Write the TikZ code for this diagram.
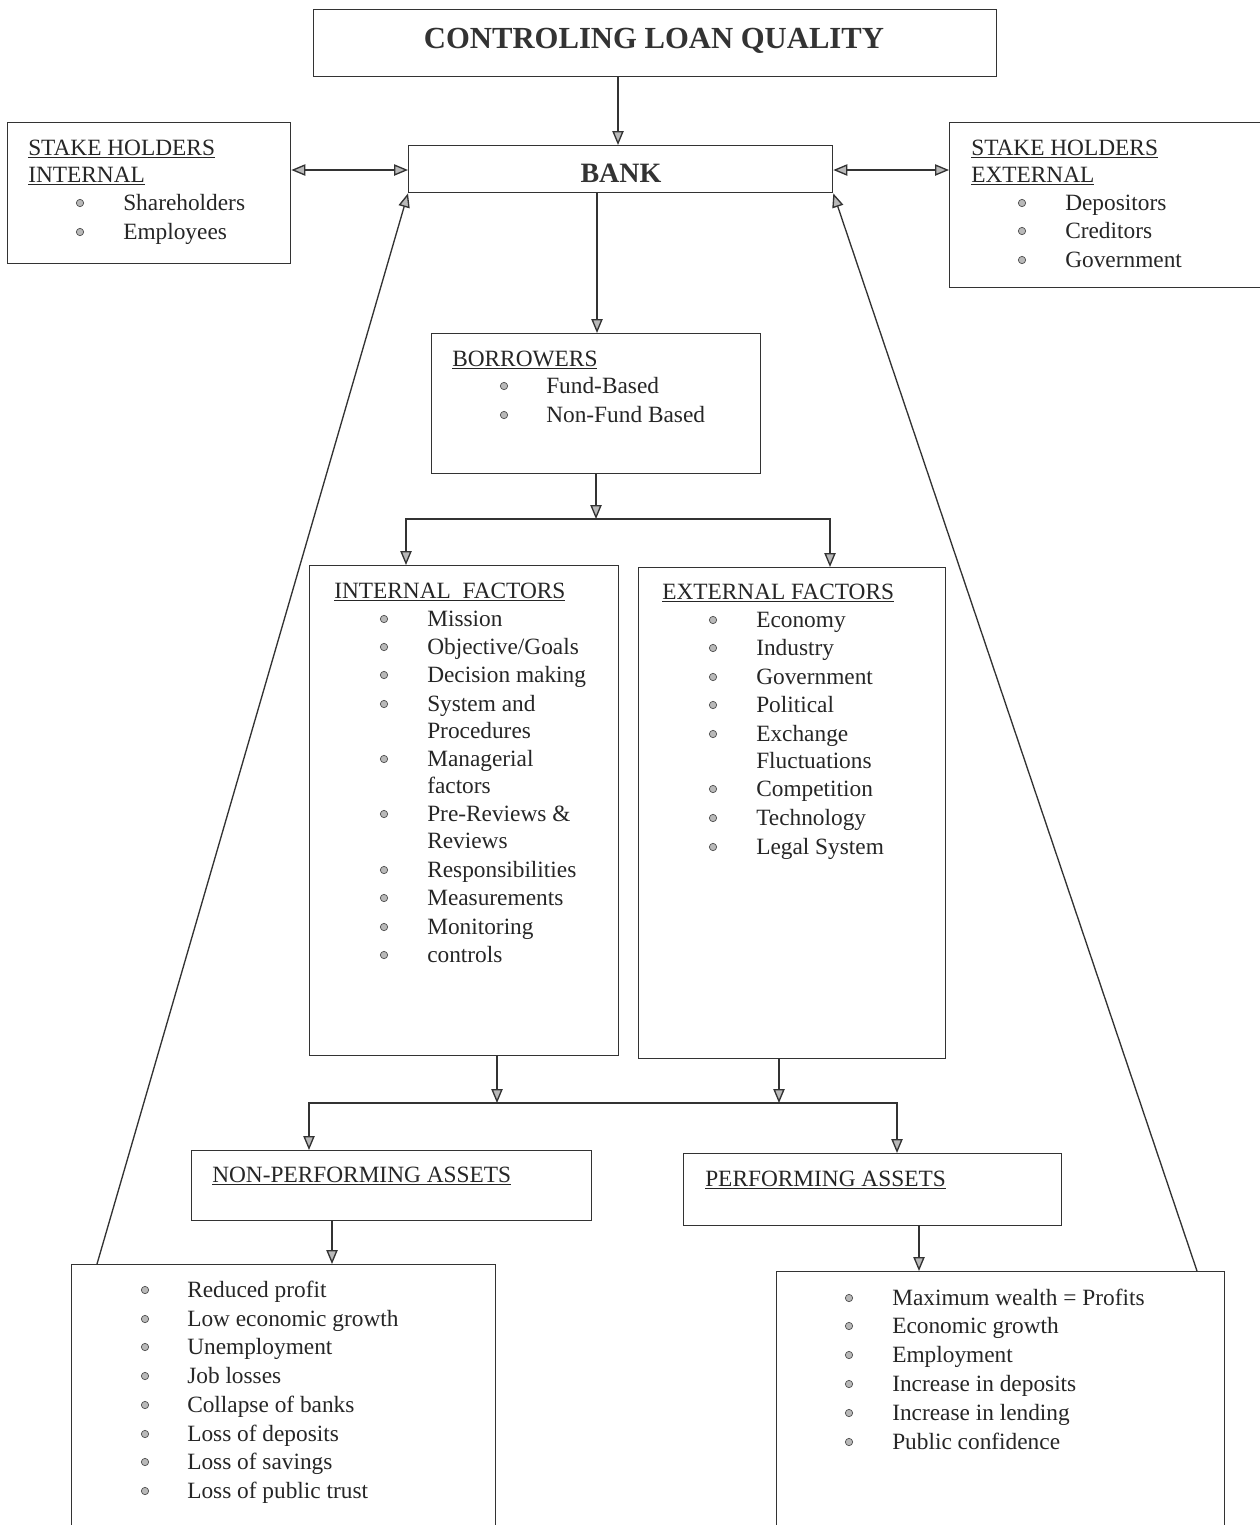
\documentclass[tikz,border=0pt]{standalone}
\usepackage{fontspec}
\setmainfont{Liberation Serif}
\usetikzlibrary{arrows.meta}
\newcommand{\pbox}[5]{\node[box, minimum width={(#4-#2)*0.75pt}, minimum height={(#5-#3)*0.75pt}] (#1) at (#2,#3) {};}
\newcommand{\bitem}[5]{\node[bul] (#1b) at (#2,#4) {}; \node[txt] (#1) at (#3,#4+7) {#5};}
\newcommand{\litem}[4]{\node[txt] (#1) at (#2,#3+7) {#4};}
\begin{document}
\begin{tikzpicture}[x=0.75pt,y=-0.75pt,
  ln/.style={draw=black!80, line width=1pt},
  box/.style={ln, rectangle, inner sep=0pt, anchor=north west},
  arr/.style={ln, -{Triangle[fill=gray!55, length=10.5pt, width=8.5pt]}},
  darr/.style={ln, {Triangle[fill=gray!55, length=10.5pt, width=8.5pt]}-{Triangle[fill=gray!55, length=10.5pt, width=8.5pt]}},
  txt/.style={anchor=base west, inner sep=0pt, text=black!85, font=\fontsize{17.5}{21}\selectfont},
  bul/.style={circle, draw=black!70, fill=gray!55, line width=0.5pt, minimum size=5.5pt, inner sep=0pt},
]
\useasboundingbox (0,0) rectangle (1260,1525);
\clip (0,0) rectangle (1260,1525);
\fill[white] (0,0) rectangle (1260,1525);

% boxes
\pbox{title}{313}{9}{996}{76}
\pbox{bank}{408}{145}{832}{192}
\pbox{shi}{7}{122}{290}{263}
\pbox{she}{949}{122}{1275}{287}
\pbox{borr}{431}{333}{760}{473}
\pbox{intf}{309}{565}{618}{1055}
\pbox{extf}{638}{567}{945}{1058}
\pbox{npa}{191}{1150}{591}{1220}
\pbox{pa}{683}{1153}{1061}{1225}
\pbox{npl}{71}{1264}{495}{1540}
\pbox{pal}{776}{1271}{1224}{1540}

% titles
\node[font=\bfseries\fontsize{23}{27}\selectfont, text=black!80, inner sep=0pt] (titlet) at (654,41) {CONTROLING LOAN QUALITY};
\node[font=\bfseries\fontsize{21}{25}\selectfont, text=black!80, inner sep=0pt] (bankt) at (621,173) {BANK};

% stakeholders internal
\node[txt] (shih1) at (28,155) {\underline{STAKE HOLDERS}};
\node[txt] (shih2) at (28,182) {\underline{INTERNAL}};
\bitem{shi1}{80}{123}{203}{Shareholders}
\bitem{shi2}{80}{123}{232}{Employees}

% stakeholders external
\node[txt] (sheh1) at (971,155) {\underline{STAKE HOLDERS}};
\node[txt] (sheh2) at (971,182) {\underline{EXTERNAL}};
\bitem{she1}{1022}{1065}{203}{Depositors}
\bitem{she2}{1022}{1065}{231}{Creditors}
\bitem{she3}{1022}{1065}{260}{Government}

% borrowers
\node[txt] (borrh) at (452,366) {\underline{BORROWERS}};
\bitem{bo1}{504}{546}{386}{Fund-Based}
\bitem{bo2}{504}{546}{415}{Non-Fund Based}

% internal factors
\node[txt] (intfh) at (334,598) {\underline{INTERNAL\enspace FACTORS}};
\bitem{if1}{384}{427}{619}{Mission}
\bitem{if2}{384}{427}{647}{Objective/Goals}
\bitem{if3}{384}{427}{675}{Decision making}
\bitem{if4}{384}{427}{704}{System and}
\litem{if4c}{427}{731}{Procedures}
\bitem{if5}{384}{427}{759}{Managerial}
\litem{if5c}{427}{786}{factors}
\bitem{if6}{384}{427}{814}{Pre-Reviews \&}
\litem{if6c}{427}{841}{Reviews}
\bitem{if7}{384}{427}{870}{Responsibilities}
\bitem{if8}{384}{427}{898}{Measurements}
\bitem{if9}{384}{427}{927}{Monitoring}
\bitem{if10}{384}{427}{955}{controls}

% external factors
\node[txt] (extfh) at (662,599) {\underline{EXTERNAL FACTORS}};
\bitem{ef1}{713}{756}{620}{Economy}
\bitem{ef2}{713}{756}{648}{Industry}
\bitem{ef3}{713}{756}{677}{Government}
\bitem{ef4}{713}{756}{705}{Political}
\bitem{ef5}{713}{756}{734}{Exchange}
\litem{ef5c}{756}{761}{Fluctuations}
\bitem{ef6}{713}{756}{789}{Competition}
\bitem{ef7}{713}{756}{818}{Technology}
\bitem{ef8}{713}{756}{847}{Legal System}

% assets
\node[txt] (npah) at (212,1182) {\underline{NON-PERFORMING ASSETS}};
\node[txt] (pah) at (705,1186) {\underline{PERFORMING ASSETS}};

% NPA consequences
\bitem{nl1}{145}{187}{1290}{Reduced profit}
\bitem{nl2}{145}{187}{1319}{Low economic growth}
\bitem{nl3}{145}{187}{1347}{Unemployment}
\bitem{nl4}{145}{187}{1376}{Job losses}
\bitem{nl5}{145}{187}{1405}{Collapse of banks}
\bitem{nl6}{145}{187}{1434}{Loss of deposits}
\bitem{nl7}{145}{187}{1462}{Loss of savings}
\bitem{nl8}{145}{187}{1491}{Loss of public trust}

% PA consequences
\bitem{pl1}{849}{892}{1298}{Maximum wealth = Profits}
\bitem{pl2}{849}{892}{1326}{Economic growth}
\bitem{pl3}{849}{892}{1355}{Employment}
\bitem{pl4}{849}{892}{1384}{Increase in deposits}
\bitem{pl5}{849}{892}{1413}{Increase in lending}
\bitem{pl6}{849}{892}{1442}{Public confidence}

% connectors
\draw[arr] (title.south -| 618,0) -- (bank.north -| 618,0);
\draw[darr] (shi.east |- 0,170) -- (bank.west |- 0,170);
\draw[darr] (bank.east |- 0,170) -- (she.west |- 0,170);
\draw[arr] (bank.south -| 597,0) -- (borr.north -| 597,0);

\coordinate (s1) at (596,519);
\coordinate (intin) at (406,565);
\coordinate (extin) at (830,567);
\draw[arr] (borr.south -| s1) -- (s1);
\draw[arr] (s1) -| (intin);
\draw[arr] (s1) -| (extin);

\coordinate (j1) at (497,1103);
\coordinate (j2) at (779,1103);
\coordinate (npain) at (309,1150);
\coordinate (pain) at (897,1153);
\draw[arr] (intf.south -| j1) -- (j1);
\draw[arr] (extf.south -| j2) -- (j2);
\draw[ln] (j1) -- (j2);
\draw[arr] (j1) -| (npain);
\draw[arr] (j2) -| (pain);

\draw[arr] (npa.south -| 332,0) -- (npl.north -| 332,0);
\draw[arr] (pa.south -| 919,0) -- (pal.north -| 919,0);

\coordinate (lft) at (97,1264);
\coordinate (rgt) at (1197,1271);
\draw[arr] (lft) -- (bank.south west);
\draw[arr] (rgt) -- (bank.south east);
\end{tikzpicture}
\end{document}
